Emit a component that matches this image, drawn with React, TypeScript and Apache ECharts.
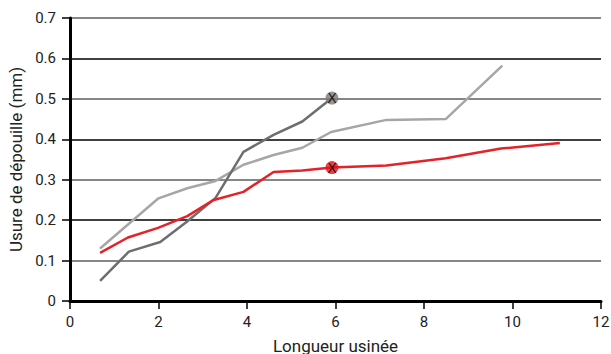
import React, { useEffect, useRef } from "react";
import * as echarts from "echarts";

const redX = [0.68, 1.31, 1.99, 2.65, 3.25, 3.92, 4.6, 5.25, 5.92, 7.15, 8.49, 9.74, 11.07];
const redY = [0.119, 0.157, 0.181, 0.21, 0.25, 0.27, 0.319, 0.323, 0.33, 0.335, 0.353, 0.377, 0.391];

const darkX = [0.68, 1.33, 2.04, 2.64, 3.29, 3.92, 4.6, 5.25, 5.92];
const darkY = [0.05, 0.122, 0.146, 0.196, 0.255, 0.369, 0.411, 0.444, 0.502];

const lightX = [0.68, 2.0, 2.65, 3.29, 3.92, 4.6, 5.25, 5.9, 7.15, 8.49, 9.77];
const lightY = [0.13, 0.254, 0.279, 0.297, 0.337, 0.361, 0.379, 0.418, 0.448, 0.45, 0.582];

const endMarkers = [
  { x: 5.92, y: 0.502, color: "#7a7a7a" },
  { x: 5.92, y: 0.33, color: "#e3131b" },
];

const xTitle = "Longueur usinée";
const yTitle = "Usure de dépouille (mm)";

const zip = (xs: number[], ys: number[]) => xs.map((x, i) => [x, ys[i]]);

export default function App() {
  const ref = useRef<HTMLDivElement>(null);
  useEffect(() => {
    document.body.style.margin = "0";
    const chart = echarts.init(ref.current!, null, { renderer: "svg" });
    const font = "Roboto";
    chart.setOption({
      animation: false,
      textStyle: { fontFamily: font },
      grid: { left: 70, right: 10, top: 18, bottom: 53, outerBoundsMode: "none", containLabel: false },
      xAxis: {
        type: "value",
        min: 0,
        max: 12,
        interval: 2,
        name: xTitle,
        nameLocation: "middle",
        nameGap: 36,
        nameTextStyle: { fontSize: 17, color: "#222", fontFamily: font },
        axisLine: { show: true, onZero: false, lineStyle: { color: "#000", width: 3 } },
        axisTick: { show: true, length: 8, inside: false, lineStyle: { color: "#000", width: 1.5 } },
        axisLabel: { fontSize: 15, color: "#222", margin: 13, fontFamily: font },
        splitLine: { show: false },
      },
      yAxis: {
        type: "value",
        min: 0,
        max: 0.7,
        interval: 0.1,
        name: yTitle,
        nameLocation: "middle",
        nameGap: 44,
        nameTextStyle: { fontSize: 17, color: "#222", fontFamily: font },
        axisLine: { show: true, onZero: false, lineStyle: { color: "#000", width: 3 } },
        axisTick: { show: true, length: 8, lineStyle: { color: "#000", width: 1.5 } },
        axisLabel: {
          fontSize: 15,
          color: "#222",
          margin: 14,
          fontFamily: font,
          formatter: (v: number) => (v === 0 ? "0" : v.toFixed(1)),
        },
        splitLine: {
          show: true,
          showMinLine: true,
          showMaxLine: true,
          lineStyle: { color: ["#000000", "#5e5e5e"], width: 1.5 },
        },
      },
      series: [
        {
          type: "line",
          data: zip(lightX, lightY),
          showSymbol: false,
          symbol: "none",
          lineStyle: { color: "#a6a6a6", width: 2.5 },
          z: 2,
        },
        {
          type: "line",
          data: zip(darkX, darkY),
          showSymbol: false,
          symbol: "none",
          lineStyle: { color: "#6e6e6e", width: 2.5 },
          z: 3,
        },
        {
          type: "line",
          data: zip(redX, redY),
          showSymbol: false,
          symbol: "none",
          lineStyle: { color: "#e52229", width: 2.5 },
          z: 4,
        },
        {
          type: "scatter",
          z: 5,
          symbol: "circle",
          symbolSize: 13,
          data: endMarkers.map((m) => ({
            value: [m.x, m.y],
            itemStyle: { color: m.color },
          })),
          label: {
            show: true,
            position: "inside",
            formatter: "X",
            color: "#000",
            fontSize: 14,
            fontFamily: "DejaVu Sans",
            fontWeight: "normal",
          },
        },
      ],
    });
    return () => chart.dispose();
  }, []);
  return <div ref={ref} style={{ width: 611, height: 354 }} />;
}
